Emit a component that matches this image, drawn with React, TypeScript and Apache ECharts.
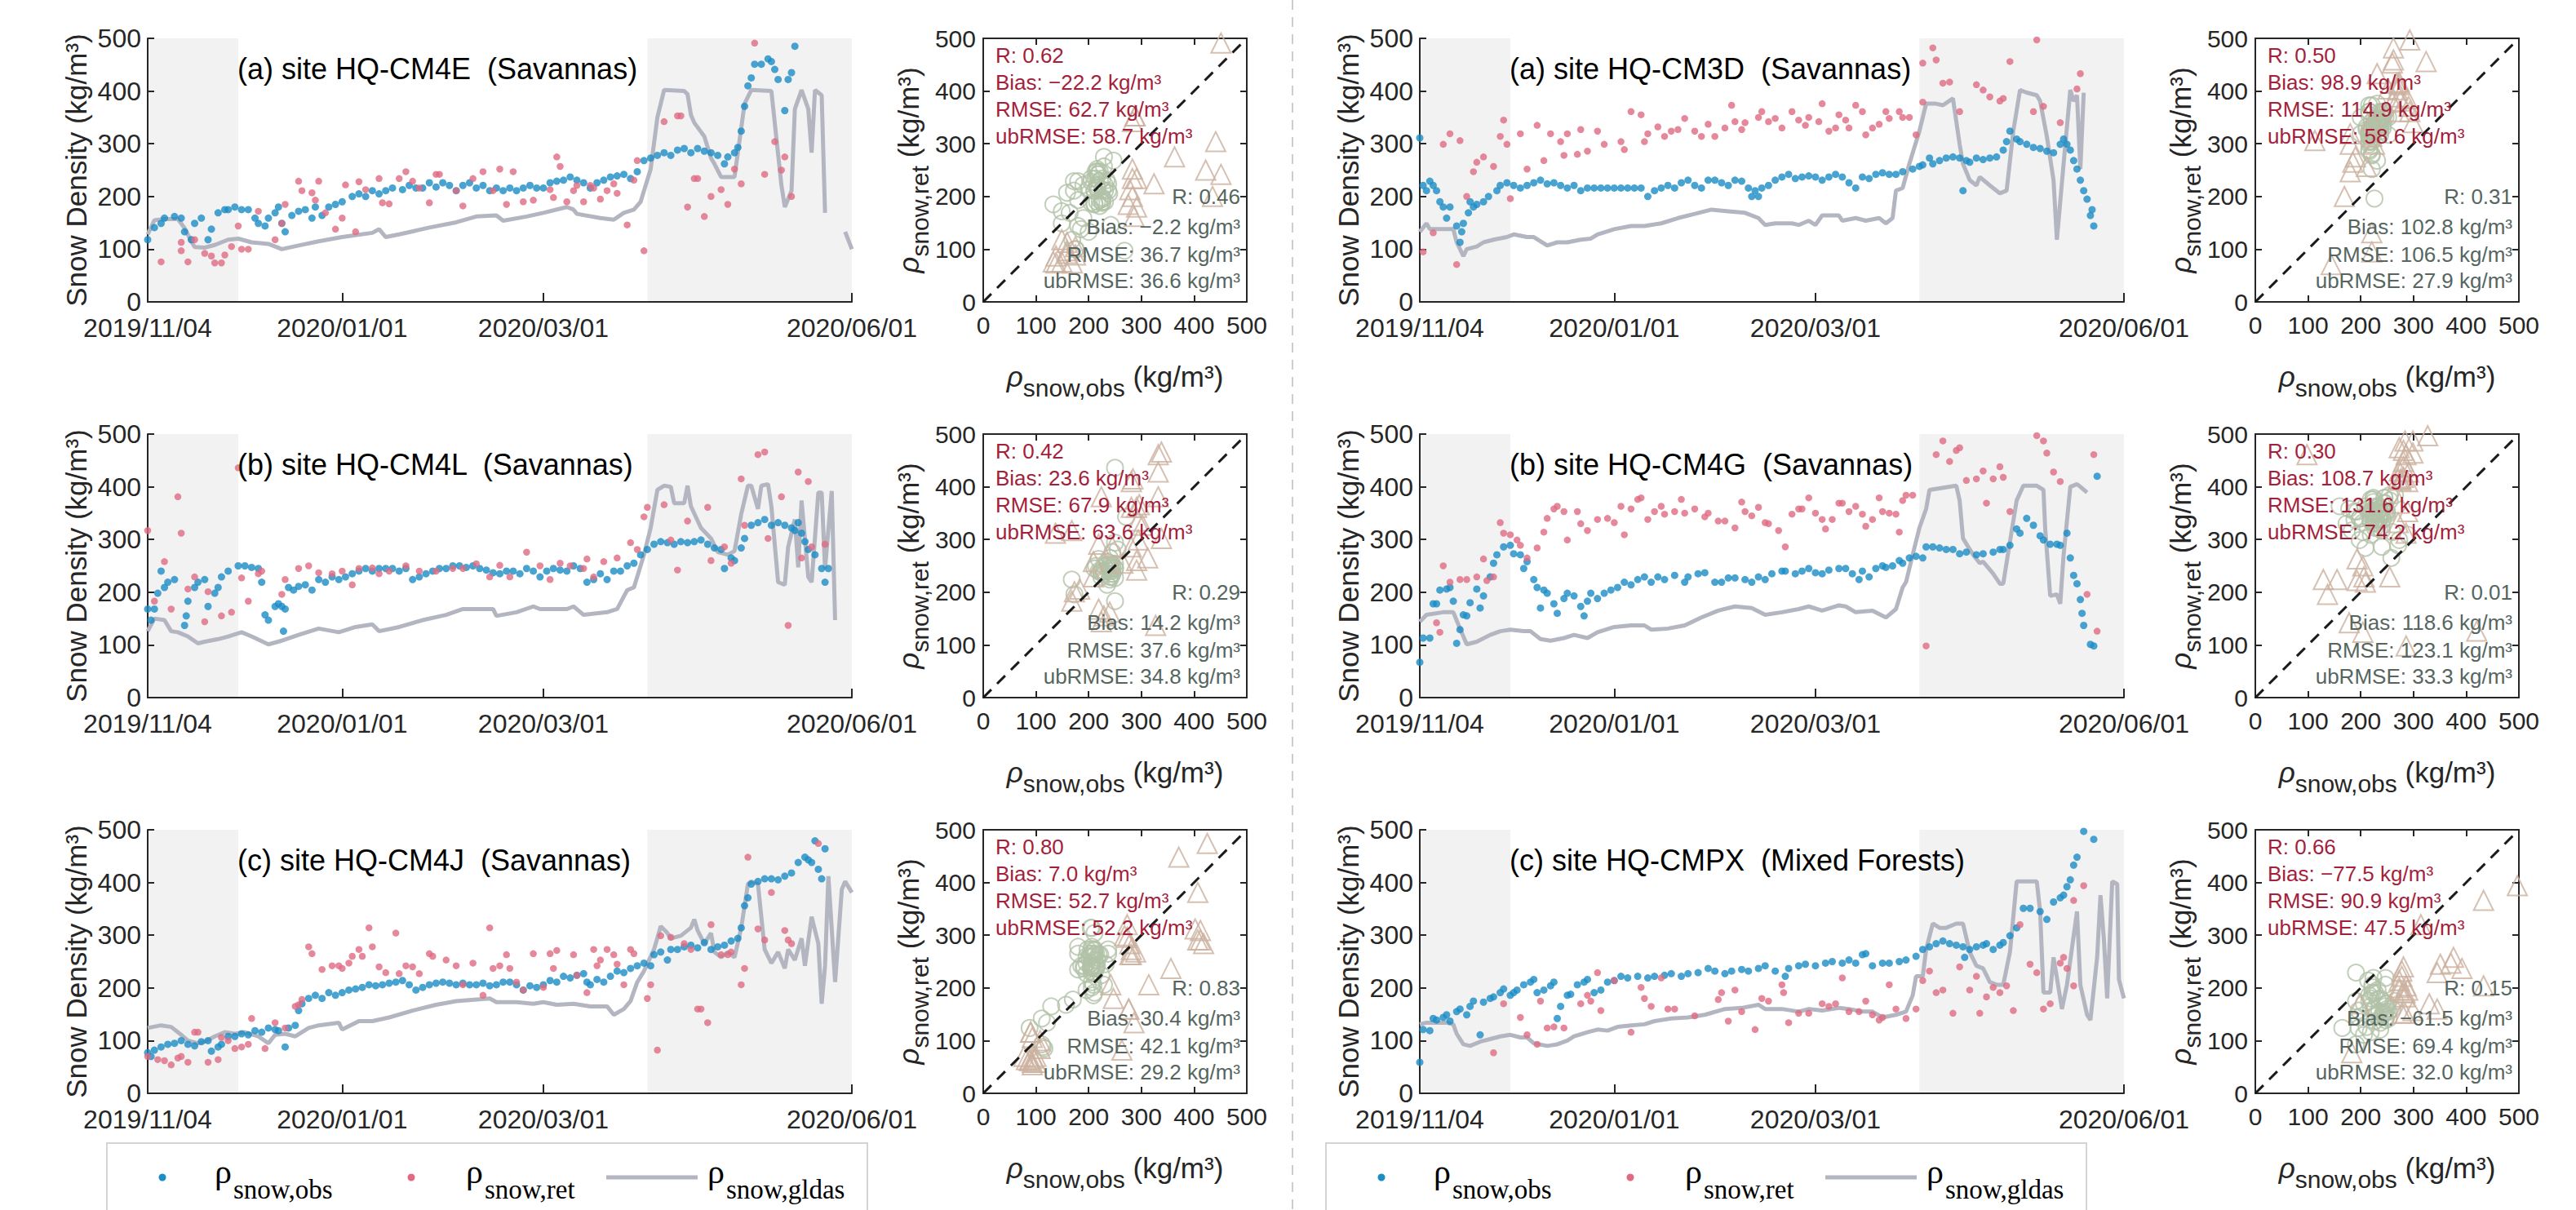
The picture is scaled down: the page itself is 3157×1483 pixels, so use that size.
import React, { useEffect, useRef } from 'react';
import * as echarts from 'echarts';

// ---------- axis ticks / periods ----------
const DATE_TICKS = [0, 58, 118, 210];
const DATE_LABELS = ['2019/11/04', '2020/01/01', '2020/03/01', '2020/06/01'];
const SHADE_SPANS = [[0, 27], [149, 210]];
const SC_TICKS_MAX = 500;

// ---------- HQ-CM4E ----------
const cm4eGldas = [[0,128],[2,155],[5,157],[9,157],[11,140],[13,115],[14,104],[17,103],[20,108],[24,118],[27,120],[31,113],[36,110],[40,100],[45,107],[51,115],[58,123],[67,131],[69,138],[71,123],[75,128],[84,141],[92,151],[98,162],[104,164],[106,154],[113,162],[118,169],[125,180],[127,175],[128,167],[135,159],[139,156],[142,169],[145,175],[147,190],[150,252],[152,350],[154,402],[160,400],[161,394],[162,355],[163,340],[166,314],[168,273],[169,262],[171,237],[175,237],[176,283],[178,376],[180,402],[186,400],[187,340],[189,221],[190,180],[192,211],[193,366],[195,402],[197,366],[198,283],[199,402],[201,392],[202,169],[203,'-'],[208,133],[210,100]];
const cm4eObs = [[0,118],[2,141],[4,149],[5,159],[8,162],[10,159],[11,133],[13,118],[14,149],[16,159],[18,118],[19,138],[21,169],[23,175],[24,175],[26,180],[28,175],[30,175],[32,159],[33,149],[35,144],[36,159],[38,169],[39,180],[40,149],[41,133],[43,164],[45,172],[47,175],[49,159],[50,180],[52,164],[54,180],[56,185],[58,190],[61,200],[63,205],[65,200],[67,211],[69,205],[71,211],[73,216],[76,213],[78,221],[80,216],[82,216],[84,226],[86,218],[88,226],[90,221],[92,211],[94,221],[96,226],[98,216],[100,221],[102,211],[104,216],[106,211],[108,216],[110,211],[112,216],[114,221],[116,216],[118,216],[120,226],[122,229],[124,231],[126,237],[128,231],[130,226],[132,216],[134,226],[136,231],[138,237],[140,239],[142,242],[144,234],[146,247],[148,268],[150,273],[152,278],[154,283],[156,278],[158,288],[160,291],[162,283],[164,291],[166,286],[168,283],[170,278],[172,262],[173,275],[175,283],[176,293],[177,324],[178,371],[179,410],[180,425],[181,451],[183,451],[185,461],[186,456],[187,441],[188,422],[190,363],[191,422],[192,435],[193,485]];
const cm4eRet = [[4,76],[10,113],[10,97],[12,76],[14,118],[17,92],[19,87],[20,74],[22,74],[23,89],[25,105],[27,144],[28,100],[30,100],[33,172],[38,118],[40,149],[41,185],[45,229],[46,211],[49,207],[50,193],[51,229],[53,169],[56,138],[58,159],[59,222],[62,133],[63,228],[65,213],[69,234],[70,188],[72,186],[75,234],[77,247],[79,229],[81,216],[84,188],[86,242],[87,242],[92,211],[94,182],[97,234],[100,247],[103,211],[105,252],[107,185],[109,247],[112,190],[115,193],[120,213],[121,198],[122,275],[123,257],[125,190],[127,211],[128,221],[130,190],[132,221],[133,216],[135,195],[137,211],[139,224],[140,206],[143,146],[145,231],[146,268],[148,97],[154,342],[158,353],[159,353],[161,180],[163,234],[164,234],[166,162],[168,200],[171,213],[173,185],[175,252],[177,224],[181,491],[184,242],[187,304],[189,250],[190,275],[192,200]];
const cm4eStatsAll = ['0.62', '\u221222.2', '62.7', '58.7'];
const cm4eStatsDry = ['0.46', '\u22122.2', '36.7', '36.6'];

// ---------- HQ-CM4L ----------
const cm4lGldas = [[0,126],[2,150],[5,147],[7,126],[9,124],[12,116],[15,103],[17,106],[21,111],[24,116],[28,124],[31,116],[36,101],[40,108],[45,119],[51,131],[57,124],[62,134],[67,139],[69,126],[75,134],[82,147],[89,157],[94,168],[103,168],[104,155],[110,162],[115,173],[117,168],[125,168],[127,173],[130,157],[137,162],[140,168],[143,204],[145,209],[148,271],[150,322],[152,394],[154,402],[156,400],[157,369],[160,369],[161,402],[162,363],[165,322],[168,302],[170,276],[173,271],[175,278],[177,348],[179,402],[180,402],[182,358],[183,402],[185,405],[186,363],[188,219],[190,214],[191,286],[193,338],[194,247],[195,374],[197,229],[198,219],[200,389],[201,389],[202,245],[204,392],[205,147]];
const cm4lObs = [[0,168],[1,147],[2,168],[3,198],[4,240],[5,209],[6,219],[8,224],[11,137],[11.5,155],[12,183],[14,209],[15,219],[17,224],[18,173],[20,198],[21,209],[22,229],[24,240],[27,250],[29,250],[31,247],[33,245],[34,219],[35,157],[36,147],[38,173],[39,178],[40,173],[40.5,126],[41,168],[42,209],[43.5,204],[45,211],[47,214],[49,204],[51,224],[53,219],[55,229],[57,224],[59,229],[61,235],[63,240],[65,245],[67,240],[69,245],[71,245],[73,245],[75,240],[77,245],[79,224],[81,229],[83,235],[85,240],[87,245],[89,245],[91,250],[93,250],[95,247],[97,250],[99,245],[101,242],[103,237],[105,235],[107,240],[109,240],[111,235],[113,245],[115,240],[117,229],[119,240],[121,245],[123,242],[125,240],[127,250],[129,245],[131,219],[133,224],[135,235],[137,224],[139,240],[141,240],[143,250],[145,255],[147,271],[149,281],[151,291],[153,296],[155,294],[157,291],[159,296],[161,294],[163,296],[165,299],[167,291],[169,284],[171,281],[172,245],[174,265],[175,260],[177,284],[178,302],[180,327],[182,332],[184,338],[186,327],[188,332],[190,327],[192,322],[193,317],[194,332],[195,312],[196,296],[197,281],[199,271],[201,245],[202,219],[203,245]];
const cm4lRet = [[0,317],[2,183],[5,258],[7,168],[9,381],[10,312],[12,206],[14,229],[17,144],[18,201],[22,155],[25,162],[27,436],[28,227],[30,183],[33,235],[34,240],[40,196],[41,224],[45,245],[48,250],[51,237],[55,235],[58,240],[61,214],[63,245],[67,246],[69,235],[72,240],[77,250],[81,240],[86,240],[91,245],[94,245],[98,254],[102,229],[105,251],[108,229],[113,276],[117,250],[120,224],[123,255],[126,250],[130,245],[131,263],[133,229],[136,258],[140,265],[144,294],[146,281],[148,343],[149,361],[154,366],[156,299],[158,242],[161,335],[167,361],[168,260],[172,286],[174,255],[177,415],[178,327],[182,461],[184,466],[185,302],[189,381],[191,137],[194,428],[195,265],[197,410],[198,286],[202,291]];
const cm4lStatsAll = ['0.42', '23.6', '67.9', '63.6'];
const cm4lStatsDry = ['0.29', '14.2', '37.6', '34.8'];

// ---------- HQ-CM4J ----------
const cm4jGldas = [[0,124],[4,129],[7,126],[10,111],[12,100],[15,95],[17,98],[20,108],[23,116],[26,113],[29,116],[33,108],[36,95],[38,111],[41,113],[44,108],[48,124],[51,129],[57,134],[58,121],[63,137],[67,137],[72,144],[79,157],[86,168],[92,175],[102,180],[104,173],[110,173],[115,170],[118,173],[122,168],[127,170],[132,165],[137,165],[139,149],[142,160],[144,175],[146,211],[148,232],[151,273],[153,317],[155,304],[156,294],[159,299],[162,314],[163,330],[164,309],[166,284],[168,304],[169,268],[171,258],[173,268],[175,258],[177,314],[179,397],[180,402],[182,397],[184,273],[186,247],[188,268],[190,237],[191,273],[193,253],[195,294],[196,242],[198,335],[200,284],[201,170],[202,242],[203,412],[205,211],[207,387],[208,402],[210,381]];
const cm4jObs = [[0,77],[1,70],[2,82],[4,88],[6,93],[8,95],[10,100],[12,93],[14,90],[16,98],[18,100],[19,80],[21,88],[22,93],[24,108],[26,108],[28,113],[30,111],[32,119],[34,116],[36,124],[38,121],[39,119],[41,88],[42,124],[44,129],[45,157],[46,170],[48,180],[50,186],[52,180],[54,191],[56,186],[58,191],[60,196],[62,198],[64,201],[66,206],[68,204],[70,206],[72,209],[74,211],[76,214],[78,206],[80,196],[82,201],[84,206],[86,209],[88,211],[90,209],[92,206],[94,209],[96,206],[98,206],[100,209],[102,204],[104,206],[106,211],[108,211],[110,206],[112,196],[114,204],[116,201],[118,206],[120,214],[122,211],[124,222],[126,219],[128,224],[130,227],[131,211],[132,206],[134,216],[136,211],[138,222],[140,232],[142,229],[144,237],[146,242],[148,247],[150,242],[151,263],[153,268],[155,253],[156,273],[158,273],[160,278],[162,281],[164,276],[166,286],[168,273],[170,278],[172,281],[174,289],[176,294],[177,314],[178,356],[179,371],[180,397],[182,402],[184,407],[186,407],[188,405],[190,412],[192,418],[194,438],[196,448],[197,443],[198,438],[199,479],[200,425],[201,407],[202,464]];
const cm4jRet = [[0,70],[3,64],[5,62],[7,54],[9,67],[10,70],[12,59],[14,116],[15,116],[18,59],[21,64],[22,106],[24,100],[26,85],[28,88],[30,93],[31,142],[35,85],[38,134],[41,124],[44,165],[45,168],[46,178],[48,278],[49,265],[52,235],[55,242],[57,242],[58,237],[60,247],[61,260],[63,273],[64,260],[66,314],[67,278],[69,240],[71,229],[74,304],[75,227],[77,242],[79,240],[81,227],[84,265],[85,260],[89,253],[92,242],[94,206],[97,247],[100,186],[102,314],[103,237],[105,242],[107,263],[108,237],[110,211],[112,196],[115,265],[118,201],[120,265],[121,237],[122,271],[127,263],[128,224],[131,191],[133,273],[134,242],[135,253],[137,273],[139,263],[140,245],[142,206],[144,273],[145,265],[149,180],[150,206],[152,82],[153,299],[156,296],[160,284],[162,273],[164,160],[165,160],[167,134],[168,320],[171,263],[173,263],[174,268],[177,206],[178,237],[179,448],[182,312],[184,291],[186,381],[190,309],[191,291],[192,284],[200,474]];
const cm4jStatsAll = ['0.80', '7.0', '52.7', '52.2'];
const cm4jStatsDry = ['0.83', '30.4', '42.1', '29.2'];

// ---------- HQ-CM3D ----------
const cm3dGldas = [[0,133],[2,149],[3,138],[7,138],[10,138],[11,113],[13,87],[14,100],[17,105],[19,113],[22,118],[26,123],[28,128],[32,123],[34,123],[38,107],[41,113],[44,113],[48,118],[51,120],[53,128],[58,138],[63,144],[67,144],[72,149],[77,159],[82,167],[87,175],[92,172],[97,169],[101,159],[103,146],[106,149],[111,149],[113,146],[116,154],[118,146],[120,164],[125,164],[126,154],[130,159],[133,154],[137,159],[139,149],[141,159],[142,211],[144,216],[146,262],[149,324],[151,376],[154,376],[156,373],[159,386],[161,299],[162,262],[164,231],[166,221],[167,237],[170,221],[173,206],[175,211],[177,324],[179,402],[181,397],[184,392],[185,381],[187,314],[189,231],[190,118],[192,262],[194,402],[195,381],[196,392],[197,252],[198,397]];
const cm3dObs = [[0,311],[1,221],[2,211],[3,229],[4,221],[5,211],[6,190],[7,180],[8,159],[9,180],[11,144],[12,113],[12.5,133],[13,149],[14.5,169],[15,190],[16,180],[17,185],[19,190],[20.5,200],[23,211],[24,221],[26,226],[28,221],[30,216],[32,221],[34,226],[36,231],[38,224],[40,226],[42,221],[44,216],[46,221],[48,211],[50,216],[52,216],[54,216],[56,216],[58,216],[60,216],[62,216],[64,216],[66,216],[68,200],[70,211],[72,216],[74,221],[76,216],[78,226],[80,231],[82,221],[84,216],[86,231],[88,231],[90,226],[92,221],[94,231],[96,229],[98,216],[99,200],[100,211],[101,200],[102,216],[104,221],[106,231],[108,237],[110,242],[112,234],[114,237],[116,239],[118,237],[120,231],[122,237],[124,242],[126,237],[128,226],[130,216],[132,237],[134,234],[136,242],[138,245],[140,242],[142,242],[144,247],[147,252],[149,257],[150,260],[152,273],[153,262],[155,268],[157,273],[159,275],[161,273],[162,211],[163,268],[164,265],[166,273],[168,270],[170,273],[172,275],[174,288],[175,304],[176,324],[178,309],[179,304],[181,299],[183,293],[185,291],[187,286],[189,283],[191,299],[192,309],[193,299],[194,288],[195,268],[196,252],[197,231],[198,211],[199,195],[200,164],[200.5,175],[201,144]];
const cm3dRet = [[1,95],[4,131],[7,299],[9,319],[11,71],[12,306],[14,200],[16,247],[17,265],[19,275],[22,257],[24,314],[25,345],[26,299],[27,196],[30,319],[32,252],[35,335],[37,268],[39,319],[42,304],[43,278],[44,319],[47,280],[48,327],[50,286],[53,324],[55,299],[60,304],[61,289],[63,361],[66,355],[67,304],[68,319],[71,332],[73,314],[75,324],[77,327],[79,348],[82,324],[84,314],[86,337],[88,314],[91,330],[93,373],[94,342],[96,327],[97,340],[101,350],[102,361],[104,342],[106,348],[108,330],[111,361],[113,345],[115,335],[116,350],[119,342],[120,376],[122,324],[124,330],[125,355],[127,345],[128,330],[130,373],[132,361],[133,317],[135,330],[137,337],[139,361],[140,348],[143,361],[144,350],[146,350],[148,317],[150,453],[150,379],[153,482],[154,459],[156,415],[158,417],[161,361],[166,412],[168,402],[170,389],[173,381],[174,386],[176,456],[183,361],[184,497],[186,371],[191,340],[196,404],[197,433]];
const cm3dStatsAll = ['0.50', '98.9', '114.9', '58.6'];
const cm3dStatsDry = ['0.31', '102.8', '106.5', '27.9'];

// ---------- HQ-CM4G ----------
const cm4gGldas = [[0,144],[2,157],[7,162],[10,162],[12,131],[14,101],[17,106],[21,119],[24,126],[27,129],[31,126],[33,126],[36,111],[39,108],[43,113],[46,119],[50,113],[53,124],[58,134],[63,137],[67,137],[69,129],[74,131],[79,137],[84,152],[89,165],[94,173],[99,170],[103,157],[108,162],[113,168],[116,173],[120,165],[125,175],[127,173],[130,162],[135,165],[139,152],[142,168],[144,209],[145,219],[147,271],[149,322],[151,358],[152,394],[155,397],[160,402],[161,374],[162,302],[165,271],[167,255],[168,258],[171,235],[173,216],[174,216],[176,296],[178,374],[180,402],[184,402],[186,394],[186.5,322],[188,193],[190,196],[191,178],[192,271],[194,400],[196,405],[197,400],[199,389]];
const cm4gObs = [[0,67],[1,113],[3,113],[4,178],[5,178],[6,204],[8,206],[9,209],[10,183],[11,103],[12,129],[13,157],[14,155],[15,180],[17,206],[18,170],[19,193],[21,229],[22,255],[23,271],[25,286],[27,289],[28,273],[30,271],[31,245],[32,258],[34,224],[35,209],[36,170],[37,204],[38,198],[40,178],[41,160],[43,188],[44,198],[46,193],[48,173],[49,155],[50,183],[51,198],[53,188],[55,198],[57,204],[59,209],[61,219],[63,214],[65,224],[67,229],[69,219],[71,229],[73,224],[76,232],[79,219],[80,229],[83,235],[85,237],[88,219],[90,219],[92,227],[94,227],[97,224],[99,219],[101,229],[103,224],[105,235],[108,240],[109,240],[112,235],[114,240],[116,245],[118,237],[120,235],[122,242],[125,245],[127,245],[129,235],[131,224],[132,240],[134,229],[136,245],[138,250],[139,247],[141,250],[143,260],[144,255],[146,265],[148,268],[150,265],[151,286],[153,286],[155,284],[157,281],[159,281],[161,273],[163,276],[166,271],[168,273],[171,276],[173,281],[174,281],[176,289],[178,320],[179,312],[181,340],[183,327],[185,307],[186,299],[188,291],[190,291],[191,289],[193,312],[194,265],[195,232],[196,216],[197,186],[197.5,160],[198,137],[200,101],[201,98],[202,420]];
const cm4gRet = [[5,142],[6,124],[7,250],[9,219],[12,224],[14,224],[17,229],[19,263],[20,222],[22,229],[24,332],[25,312],[27,309],[29,299],[30,289],[32,265],[35,284],[37,314],[38,340],[40,358],[41,363],[43,353],[44,299],[47,353],[48,330],[50,317],[53,338],[56,340],[58,332],[60,363],[61,309],[63,358],[65,376],[66,379],[68,338],[70,353],[72,363],[73,348],[76,353],[78,376],[79,350],[82,358],[85,343],[86,350],[89,335],[91,335],[94,322],[96,371],[97,353],[99,345],[101,361],[103,332],[104,330],[107,317],[109,286],[111,348],[113,358],[114,358],[116,379],[118,350],[120,338],[121,320],[123,338],[125,369],[126,369],[128,353],[130,363],[132,348],[133,325],[135,338],[137,379],[138,353],[140,350],[142,348],[143,314],[144,374],[145,384],[147,384],[151,98],[154,461],[156,487],[158,448],[160,469],[161,474],[163,412],[166,415],[168,430],[169,369],[171,415],[173,438],[174,418],[176,353],[184,497],[186,487],[187,464],[189,428],[191,410],[199,196],[201,461],[202,126]];
const cm4gStatsAll = ['0.30', '108.7', '131.6', '74.2'];
const cm4gStatsDry = ['0.01', '118.6', '123.1', '33.3'];

// ---------- HQ-CMPX ----------
const cmpxGldas = [[0,131],[2,134],[8,134],[10,131],[11,113],[13,93],[15,90],[18,98],[21,103],[24,108],[27,111],[30,106],[32,106],[34,95],[38,90],[41,93],[44,100],[46,108],[50,116],[53,121],[56,119],[59,126],[63,129],[67,131],[70,137],[75,142],[80,144],[85,149],[91,160],[96,162],[101,168],[103,160],[108,160],[113,155],[116,160],[120,157],[125,162],[128,160],[132,155],[135,155],[138,144],[142,149],[145,155],[147,186],[148,222],[150,222],[151,273],[153,322],[155,314],[157,314],[160,322],[162,322],[164,268],[166,242],[168,237],[170,211],[172,206],[174,206],[176,268],[178,402],[181,402],[184,402],[185,345],[186,191],[188,191],[189,258],[191,180],[191.5,160],[193,206],[196,345],[197,206],[199,149],[200,139],[202,258],[203,376],[204,294],[205,180],[206.5,402],[208,397],[208.5,216],[210,180]];
const cmpxObs = [[0,59],[1,121],[3,119],[4,142],[5,139],[7,144],[8,149],[9,137],[11,155],[12,160],[14,149],[15,165],[16,175],[18,111],[19,173],[21,180],[22,183],[24,191],[25,198],[27,186],[28,191],[29,196],[31,206],[33,211],[34,216],[35,191],[37,196],[39,204],[40,211],[41,142],[42,165],[44,186],[45,188],[47,206],[49,211],[50,216],[52,191],[54,196],[56,211],[58,214],[60,222],[62,219],[65,222],[68,219],[70,222],[73,224],[75,227],[78,222],[80,227],[83,229],[86,237],[88,232],[91,227],[93,232],[96,235],[98,232],[101,237],[103,242],[106,232],[109,222],[110,237],[113,242],[115,245],[118,242],[121,247],[123,250],[126,247],[128,253],[130,247],[132,263],[133,265],[135,242],[138,247],[140,247],[143,250],[145,253],[148,260],[150,273],[152,278],[154,284],[156,289],[158,284],[160,281],[162,278],[162.5,258],[164,273],[166,278],[168,281],[169,284],[171,273],[173,281],[174,286],[176,299],[178,314],[180,351],[182,351],[185,345],[187,330],[189,363],[191,371],[192,376],[193,392],[194,405],[195,433],[196,448],[198,497],[201,482]];
const cmpxRet = [[22,77],[25,170],[30,144],[32,111],[35,93],[36,175],[38,124],[40,126],[43,124],[48,170],[50,186],[51,175],[53,229],[54,157],[58,214],[63,116],[66,201],[67,180],[69,165],[72,219],[74,160],[76,160],[82,147],[89,178],[90,191],[92,137],[94,196],[96,155],[100,121],[102,180],[104,175],[108,206],[108.5,191],[110,134],[113,152],[116,152],[120,170],[122,165],[124,170],[126,219],[128,155],[131,155],[133,175],[135,149],[137,139],[138,144],[140,206],[142,160],[145,142],[148,160],[150,214],[152,232],[154,191],[156,196],[159,152],[161,240],[164,196],[166,222],[167,152],[169,183],[171,201],[173,191],[175,204],[177,157],[179,320],[182,245],[184,229],[186,160],[188,170],[191,247],[192,258],[193,237],[195,204],[195,366],[198,394]];
const cmpxStatsAll = ['0.66', '\u221277.5', '90.9', '47.5'];
const cmpxStatsDry = ['0.15', '\u221261.5', '69.4', '32.0'];

const PANELS = [
  { col: 0, row: 0, title: '(a) site HQ-CM4E  (Savannas)', gldas: cm4eGldas, obs: cm4eObs, ret: cm4eRet, all: cm4eStatsAll, dry: cm4eStatsDry },
  { col: 0, row: 1, title: '(b) site HQ-CM4L  (Savannas)', gldas: cm4lGldas, obs: cm4lObs, ret: cm4lRet, all: cm4lStatsAll, dry: cm4lStatsDry },
  { col: 0, row: 2, title: '(c) site HQ-CM4J  (Savannas)', gldas: cm4jGldas, obs: cm4jObs, ret: cm4jRet, all: cm4jStatsAll, dry: cm4jStatsDry },
  { col: 1, row: 0, title: '(a) site HQ-CM3D  (Savannas)', gldas: cm3dGldas, obs: cm3dObs, ret: cm3dRet, all: cm3dStatsAll, dry: cm3dStatsDry },
  { col: 1, row: 1, title: '(b) site HQ-CM4G  (Savannas)', gldas: cm4gGldas, obs: cm4gObs, ret: cm4gRet, all: cm4gStatsAll, dry: cm4gStatsDry },
  { col: 1, row: 2, title: '(c) site HQ-CMPX  (Mixed Forests)', gldas: cmpxGldas, obs: cmpxObs, ret: cmpxRet, all: cmpxStatsAll, dry: cmpxStatsDry },
];

// ---------- layout / style ----------
const W = 3157, H = 1483;
const ROW_TOPS = [47, 532, 1017];
const PH = 323;
const TS_LEFT = [181, 1740];
const TS_W = 863;
const SC_LEFT = [1205, 2764];
const SC_W = 323;
const LEG_DX = [0, 1494];

const SANS = '"Liberation Sans", Arial, Helvetica, sans-serif';
const SERIF = '"Liberation Serif", "Times New Roman", Times, serif';
const AX = '#262626';
const OBS_C = '#1a8cc6';
const RET_C = '#e06a82';
const GLDAS_C = '#b3b6c1';
const CIRC_C = '#b1c2a8';
const TRI_C = '#ccb09f';
const RED_T = '#a41f3c';
const GRAY_T = '#56665f';

let _ctx: CanvasRenderingContext2D | null = null;
function tw(text: string, size: number, family: string, style = 'normal') {
  if (!_ctx) _ctx = document.createElement('canvas').getContext('2d');
  if (!_ctx) return text.length * size * 0.55;
  _ctx.font = `${style} ${size}px ${family}`;
  return _ctx.measureText(text).width;
}

function obsAt(obs: any[], d: number) {
  let best: number | null = null, bd = Infinity;
  for (const [od, ov] of obs) {
    const dd = Math.abs(od - d);
    if (dd < bd) { bd = dd; best = ov; }
  }
  return bd <= 1.5 ? best : null;
}

function isWet(d: number) {
  return SHADE_SPANS.some(([a, b]) => d < b && d >= a);
}

function rhoAxisLabel(sub: string) {
  const ms = 35, ss = 30;
  const wr = tw('\u03c1', ms, SANS, 'italic');
  const ws = tw(sub, ss, SANS);
  const gap = tw(' ', ms, SANS);
  const wm = tw('(kg/m\u00b3)', ms, SANS);
  const total = wr + ws + gap + wm;
  const x0 = -total / 2;
  return [
    { type: 'text', x: x0, y: 0, style: { text: '\u03c1', fontSize: ms, fontStyle: 'italic', fontFamily: SANS, fill: AX, align: 'left', verticalAlign: 'middle' } },
    { type: 'text', x: x0 + wr, y: 14, style: { text: sub, fontSize: ss, fontFamily: SANS, fill: AX, align: 'left', verticalAlign: 'middle' } },
    { type: 'text', x: x0 + wr + ws + gap, y: 0, style: { text: '(kg/m\u00b3)', fontSize: ms, fontFamily: SANS, fill: AX, align: 'left', verticalAlign: 'middle' } },
  ];
}

function rhoLegend(x: number, sub: string) {
  const wr = tw('\u03c1', 42, SERIF);
  return [
    { type: 'text', x, y: 1436, style: { text: '\u03c1', fontSize: 42, fontFamily: SERIF, fill: '#000', align: 'left', verticalAlign: 'middle' } },
    { type: 'text', x: x + wr + 2, y: 1458, style: { text: sub, fontSize: 33, fontFamily: SERIF, fill: '#000', align: 'left', verticalAlign: 'middle' } },
  ];
}

function buildOption() {
  const grid: any[] = [], xAxis: any[] = [], yAxis: any[] = [], series: any[] = [], g: any[] = [];
  const line = { color: AX, width: 2 };

  PANELS.forEach((p) => {
    const top = ROW_TOPS[p.row];
    const tsL = TS_LEFT[p.col];
    const scL = SC_LEFT[p.col];
    const cy = top + PH / 2;

    // ---- time series ----
    const gi = grid.length;
    grid.push({ left: tsL, top, width: TS_W, height: PH });
    xAxis.push({
      gridIndex: gi, type: 'value', min: 0, max: 210,
      axisLine: { show: true, onZero: false, lineStyle: line },
      axisTick: { show: true, inside: true, length: 11, customValues: DATE_TICKS, lineStyle: line },
      axisLabel: {
        customValues: DATE_TICKS, showMinLabel: true, showMaxLabel: true,
        formatter: (v: number) => { const k = DATE_TICKS.indexOf(Math.round(v)); return k >= 0 ? DATE_LABELS[k] : ''; },
        fontSize: 32, lineHeight: 30, color: AX, fontFamily: SANS, margin: 17,
      },
      splitLine: { show: false },
    });
    yAxis.push({
      gridIndex: gi, type: 'value', min: 0, max: 500, interval: 100,
      axisLine: { show: true, onZero: false, lineStyle: line },
      axisTick: { show: true, inside: true, length: 8, lineStyle: line },
      axisLabel: { fontSize: 32, lineHeight: 26, color: AX, fontFamily: SANS, margin: 8 },
      splitLine: { show: false },
    });
    const xi = xAxis.length - 1, yi = yAxis.length - 1;
    series.push({
      type: 'custom', xAxisIndex: xi, yAxisIndex: yi, silent: true, z: 0,
      data: SHADE_SPANS,
      renderItem: (params: any, api: any) => {
        const a = api.coord([api.value(0), 500]);
        const b = api.coord([api.value(1), 0]);
        return { type: 'rect', shape: { x: a[0], y: a[1], width: b[0] - a[0], height: b[1] - a[1] }, style: { fill: '#f2f2f2' } };
      },
    });
    series.push({
      type: 'line', xAxisIndex: xi, yAxisIndex: yi, data: p.gldas, showSymbol: false, symbol: 'none',
      lineStyle: { color: GLDAS_C, width: 5 }, z: 2, silent: true, connectNulls: false,
    });
    series.push({ type: 'scatter', xAxisIndex: xi, yAxisIndex: yi, data: p.obs, symbolSize: 9, itemStyle: { color: OBS_C }, z: 3, silent: true });
    series.push({ type: 'scatter', xAxisIndex: xi, yAxisIndex: yi, data: p.ret, symbolSize: 8.5, itemStyle: { color: RET_C }, z: 4, silent: true });

    // ---- scatter ----
    const si = grid.length;
    grid.push({ left: scL, top, width: SC_W, height: PH });
    const scAx = (pos: string, labels: boolean, margin: number) => ({
      gridIndex: si, type: 'value', min: 0, max: SC_TICKS_MAX, interval: 100, position: pos,
      axisLine: { show: true, onZero: false, lineStyle: line },
      axisTick: { show: true, inside: true, length: 8, lineStyle: line },
      axisLabel: { show: labels, fontSize: 30, lineHeight: 26, color: AX, fontFamily: SANS, margin },
      splitLine: { show: false },
    });
    xAxis.push(scAx('bottom', true, 15));
    const sxi = xAxis.length - 1;
    xAxis.push(scAx('top', false, 8));
    yAxis.push(scAx('left', true, 9));
    const syi = yAxis.length - 1;
    yAxis.push(scAx('right', false, 8));

    const circ: number[][] = [], tri: number[][] = [];
    p.ret.forEach(([d, v]: any) => {
      const o = obsAt(p.obs, d);
      if (o === null) return;
      (isWet(d) ? tri : circ).push([o, v]);
    });
    series.push({ type: 'scatter', xAxisIndex: sxi, yAxisIndex: syi, data: circ, symbol: 'circle', symbolSize: 20,
      itemStyle: { color: 'rgba(0,0,0,0)', borderColor: CIRC_C, borderWidth: 2 }, z: 3, silent: true });
    series.push({ type: 'scatter', xAxisIndex: sxi, yAxisIndex: syi, data: tri, symbol: 'triangle', symbolSize: 24,
      itemStyle: { color: 'rgba(0,0,0,0)', borderColor: TRI_C, borderWidth: 2 }, z: 3, silent: true });
    series.push({ type: 'line', xAxisIndex: sxi, yAxisIndex: syi, data: [[0, 0], [500, 500]], symbol: 'none',
      lineStyle: { color: '#1a1a1a', width: 3, type: [14, 10] }, z: 5, silent: true });

    // ---- texts ----
    g.push({ type: 'text', x: tsL + 110, y: top + 37, z: 100,
      style: { text: p.title, fontSize: 36, fontFamily: SANS, fill: '#000', align: 'left', verticalAlign: 'middle' } });
    g.push({ type: 'text', x: tsL - 88, y: cy, rotation: Math.PI / 2, z: 100,
      style: { text: 'Snow Density (kg/m\u00b3)', fontSize: 35, fontFamily: SANS, fill: AX, align: 'center', verticalAlign: 'middle' } });
    g.push({ type: 'group', x: scL + SC_W / 2, y: top + 414, z: 100, children: rhoAxisLabel('snow,obs') });
    g.push({ type: 'group', x: scL - 92, y: cy, rotation: Math.PI / 2, z: 100, children: rhoAxisLabel('snow,ret') });

    const lines = (s: string[]) => [`R: ${s[0]}`, `Bias: ${s[1]} kg/m\u00b3`, `RMSE: ${s[2]} kg/m\u00b3`, `ubRMSE: ${s[3]} kg/m\u00b3`];
    const redY = [21, 54, 87, 120];
    lines(p.all).forEach((t, k) => g.push({ type: 'text', x: scL + 15, y: top + redY[k], z: 100,
      style: { text: t, fontSize: 26, fontFamily: SANS, fill: RED_T, align: 'left', verticalAlign: 'middle' } }));
    const grayY = [194, 231, 265, 297];
    lines(p.dry).forEach((t, k) => g.push({ type: 'text', x: scL + SC_W - 8, y: top + grayY[k], z: 100,
      style: { text: t, fontSize: 26, fontFamily: SANS, fill: GRAY_T, align: 'right', verticalAlign: 'middle' } }));
  });

  // separator
  g.push({ type: 'line', z: 50, shape: { x1: 1584, y1: 0, x2: 1584, y2: H }, style: { stroke: '#cccccc', lineWidth: 2, lineDash: [12, 9] } });

  // legends
  LEG_DX.forEach((dx) => {
    g.push({ type: 'rect', z: 60, shape: { x: 131 + dx, y: 1401, width: 932, height: 120 }, style: { fill: '#fff', stroke: '#d4d4d4', lineWidth: 2 } });
    g.push({ type: 'circle', z: 61, shape: { cx: 199 + dx, cy: 1443, r: 4.5 }, style: { fill: OBS_C } });
    rhoLegend(263 + dx, 'snow,obs').forEach((e) => g.push({ ...e, z: 61 }));
    g.push({ type: 'circle', z: 61, shape: { cx: 504 + dx, cy: 1443, r: 4.5 }, style: { fill: RET_C } });
    rhoLegend(571 + dx, 'snow,ret').forEach((e) => g.push({ ...e, z: 61 }));
    g.push({ type: 'line', z: 61, shape: { x1: 743 + dx, y1: 1443, x2: 855 + dx, y2: 1443 }, style: { stroke: GLDAS_C, lineWidth: 5 } });
    rhoLegend(867 + dx, 'snow,gldas').forEach((e) => g.push({ ...e, z: 61 }));
  });

  return {
    animation: false,
    backgroundColor: '#ffffff',
    textStyle: { fontFamily: SANS },
    grid, xAxis, yAxis, series,
    graphic: { elements: g },
  };
}

export default function App() {
  const ref = useRef<HTMLDivElement>(null);
  useEffect(() => {
    document.body.style.margin = '0';
    if (!ref.current) return;
    const chart = echarts.init(ref.current, null, { renderer: 'svg', width: W, height: H });
    chart.setOption(buildOption() as any);
    return () => chart.dispose();
  }, []);
  return <div ref={ref} style={{ position: 'fixed', left: 0, top: 0, width: W, height: H, background: '#fff' }} />;
}
